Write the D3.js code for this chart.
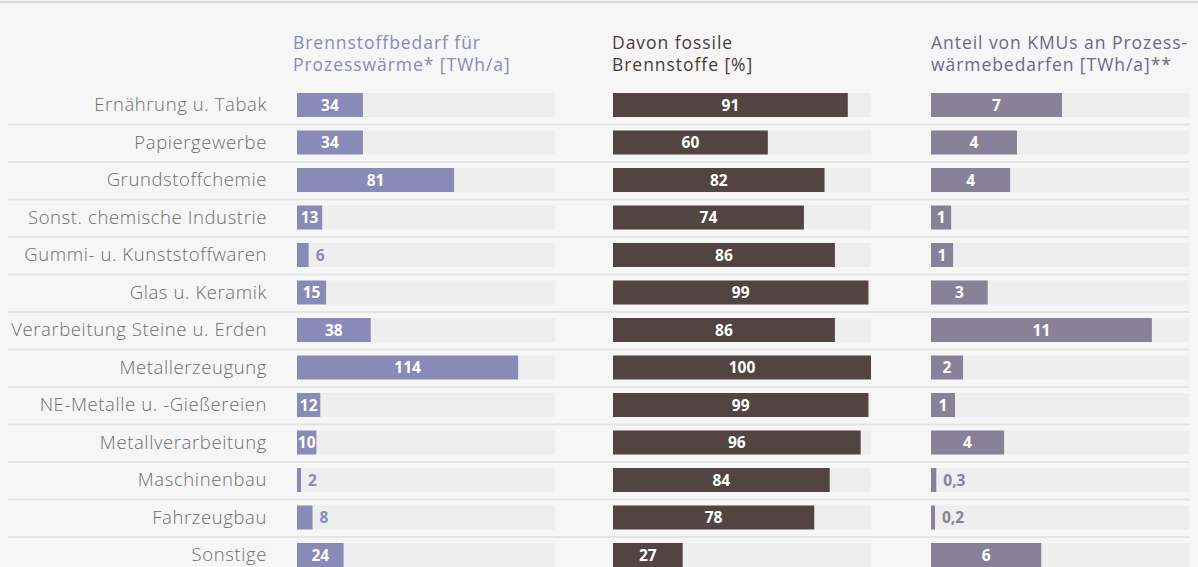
<!DOCTYPE html>
<html>
<head>
<meta charset="utf-8">
<script src="https://cdn.jsdelivr.net/npm/d3@7"></script>
<style>
  html, body { margin: 0; padding: 0; background: #f6f6f6; }
  svg { display: block; font-family: "Open Sans", sans-serif; }
</style>
</head>
<body>
<div id="chart"></div>
<script>
// categories (rows, top to bottom)
const categories = [
  "Ernährung u. Tabak", "Papiergewerbe", "Grundstoffchemie",
  "Sonst. chemische Industrie", "Gummi- u. Kunststoffwaren", "Glas u. Keramik",
  "Verarbeitung Steine u. Erden", "Metallerzeugung", "NE-Metalle u. -Gießereien",
  "Metallverarbeitung", "Maschinenbau", "Fahrzeugbau", "Sonstige"
];
// Brennstoffbedarf für Prozesswärme [TWh/a]
const fuelDemand = [34, 34, 81, 13, 6, 15, 38, 114, 12, 10, 2, 8, 24];
// Davon fossile Brennstoffe [%]
const fossilShare = [91, 60, 82, 74, 86, 99, 86, 100, 99, 96, 84, 78, 27];
// Anteil von KMUs an Prozesswärmebedarfen [TWh/a]
const smeDemand = [6.7, 4.4, 4.05, 1.03, 1.13, 2.9, 11.3, 1.64, 1.23, 3.74, 0.27, 0.2, 5.64];

const titles = [
  ["Brennstoffbedarf für", "Prozesswärme* [TWh/a]"],
  ["Davon fossile", "Brennstoffe [%]"],
  ["Anteil von KMUs an Prozess-", "wärmebedarfen [TWh/a]**"]
];

const width = 1198, height = 567;
const de = d3.formatLocale({decimal: ",", thousands: ".", grouping: [3], currency: ["", " €"]});
const fmtInt = de.format(".0f"), fmtDec = de.format(".1f");
const fmt = v => v < 1 ? fmtDec(v) : fmtInt(v);

const panels = [
  {values: fuelDemand, max: 133, x0: 297, color: "#8a8ab8", titleColor: "#8a8ab8", titleX: 293},
  {values: fossilShare, max: 100, x0: 613, color: "#514443", titleColor: "#473c3b", titleX: 612},
  {values: smeDemand, max: 13.2, x0: 931, color: "#878297", titleColor: "#6c6884", titleX: 931}
];
const trackW = 258;

const svg = d3.select("#chart").append("svg")
    .attr("width", width)
    .attr("height", height);

svg.append("rect").attr("width", width).attr("height", height).attr("fill", "#f6f6f6");
svg.append("line")
    .attr("x1", 0).attr("x2", width).attr("y1", 2).attr("y2", 2)
    .attr("stroke", "#d9d9d9").attr("stroke-width", 2);

const y = d3.scaleBand()
    .domain(categories)
    .range([87, 87 + categories.length * 37.5]);
const barH = 24, barOff = 6;

// row separators
svg.append("g").selectAll("line")
    .data(categories.slice(0, -1))
    .join("line")
    .attr("x1", 8).attr("x2", 1189)
    .attr("y1", d => y(d) + y.bandwidth())
    .attr("y2", d => y(d) + y.bandwidth())
    .attr("stroke", "#e4e4e4").attr("stroke-width", 2);

// category labels
svg.append("g").selectAll("text")
    .data(categories)
    .join("text")
    .attr("x", 267)
    .attr("y", d => y(d) + barOff + barH / 2)
    .attr("dy", "0.35em")
    .attr("text-anchor", "end")
    .attr("fill", "#6e6e6e")
    .attr("font-size", 18.5)
    .attr("font-weight", 300)
    .attr("letter-spacing", 0.6)
    .text(d => d);

panels.forEach((p, i) => {
  const x = d3.scaleLinear().domain([0, p.max]).range([p.x0, p.x0 + trackW]);
  const g = svg.append("g");

  const title = g.append("text")
      .attr("x", p.titleX)
      .attr("y", 49)
      .attr("fill", p.titleColor)
      .attr("font-size", 17.5)
      .attr("letter-spacing", 0.95);
  titles[i].forEach((line, k) => {
    title.append("tspan").attr("x", p.titleX).attr("dy", k ? 22 : 0).text(line);
  });

  const rows = categories.map((c, j) => ({c, v: p.values[j]}));

  g.selectAll(".track").data(rows).join("rect")
      .attr("x", x(0)).attr("y", d => y(d.c) + barOff)
      .attr("width", trackW).attr("height", barH)
      .attr("fill", "#eeeeee");

  g.selectAll(".bar").data(rows).join("rect")
      .attr("x", x(0)).attr("y", d => y(d.c) + barOff)
      .attr("width", d => Math.max(4, x(d.v) - x(0))).attr("height", barH)
      .attr("fill", p.color);

  g.selectAll(".val").data(rows).join("text")
      .attr("x", d => {
        const w = x(d.v) - x(0);
        return w >= 16 ? x(0) + w / 2 : x(0) + Math.max(4, w) + 7;
      })
      .attr("y", d => y(d.c) + barOff + barH / 2)
      .attr("dy", "0.36em")
      .attr("text-anchor", d => (x(d.v) - x(0)) >= 16 ? "middle" : "start")
      .attr("fill", d => (x(d.v) - x(0)) >= 16 ? "#ffffff" : p.color)
      .attr("font-size", 15.5)
      .attr("font-weight", 700)
      .text(d => fmt(d.v));
});
</script>
</body>
</html>
